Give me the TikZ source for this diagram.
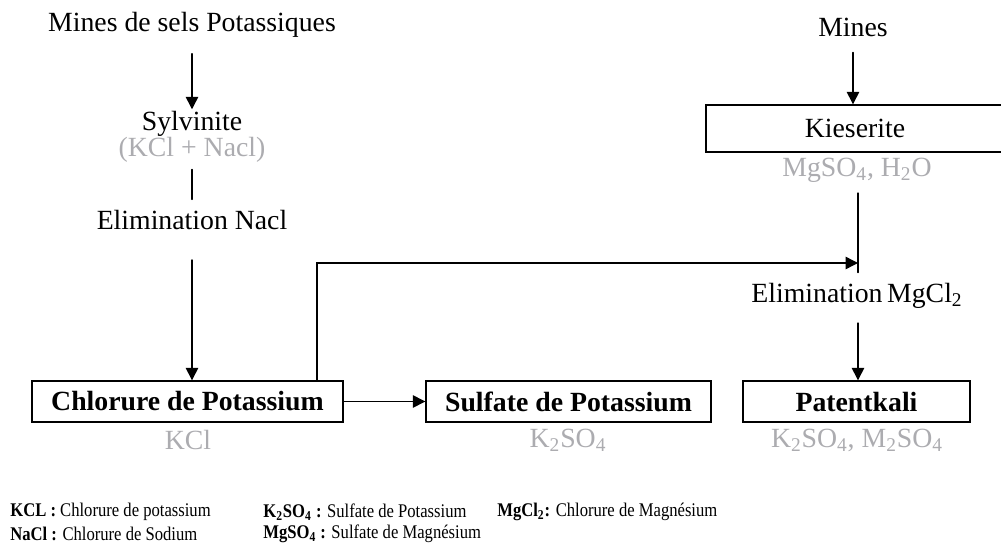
\documentclass[tikz,border=0pt]{standalone}
\usepackage{fontspec}
\setmainfont{Liberation Serif}
\newfontfamily\legendfont[FakeStretch=0.86]{Liberation Serif}
\usepackage{tikz}
\usetikzlibrary{arrows.meta}

\begin{document}
\begin{tikzpicture}
		[line cap=round,
		%Styles
		plain node/.style={font=\fontsize{15.8}{18}\selectfont,inner sep=1pt},
		gray node/.style={font=\fontsize{15.8}{18}\selectfont,text=saltgray,inner sep=1pt},
		box node/.style={draw,thick,font=\fontsize{15.8}{18}\selectfont\bfseries,minimum height=0.82cm,inner sep=0pt},
		legend node/.style={font=\legendfont\fontsize{11}{12}\selectfont,anchor=west,inner sep=0pt},
		flow/.style={thick,-{Triangle[width=7pt,length=7pt]}}
		]
		
		%Colors
		\definecolor{saltgray}{RGB}{172,172,176}	%formulas under the names
		
		\useasboundingbox (0,0) rectangle (20.02,-10.88);
		
		%The graphic
		\node[plain node] (mines1) at (3.84, -0.5) {Mines de sels Potassiques};
		\node[plain node] (sylv) at (3.84, -2.48) {Sylvinite};
		\node[gray node] (sylvtxt) at (3.84, -2.99) {(KCl + Nacl)};
		\node[plain node] (elimna) at (3.84, -4.4) {Elimination Nacl};
		\node[box node,minimum width=6.22cm] (kcl) at (3.75, -8.03) {Chlorure de Potassium};
		\node[gray node] (kcltxt) at (3.76, -8.8) {KCl};
		\node[box node,minimum width=5.7cm] (sulf) at (11.37, -8.03) {Sulfate de Potassium};
		\node[gray node] (sulftxt) at (11.36, -8.8) {K\textsubscript{2}SO\textsubscript{4}};
		\node[box node,minimum width=4.54cm] (patent) at (17.13, -8.03) {Patentkali};
		\node[gray node] (patenttxt) at (17.14, -8.8) {K\textsubscript{2}SO\textsubscript{4}, M\textsubscript{2}SO\textsubscript{4}};
		\node[plain node] (mines2) at (17.06, -0.54) {Mines};
		\node[box node,font=\fontsize{15.8}{18}\selectfont,minimum width=5.96cm,minimum height=0.94cm] (kies) at (17.1, -2.57) {Kieserite};
		\node[gray node] (kiestxt) at (17.14, -3.4) {MgSO\textsubscript{4}, H\textsubscript{2}O};
		\node[plain node] (elimmg) at (17.14, -5.92) {Elimination\,MgCl\textsubscript{2}};
		\coordinate (bend) at (6.34, -5.26);
		\coordinate (join) at (17.16, -5.26);
		
		\draw[flow,shorten <=8pt] (mines1) -- (sylv);
		\draw[thick,shorten <=3pt,shorten >=5pt] (sylvtxt) -- (elimna);
		\draw[flow,shorten <=16pt] (elimna) -- (elimna |- kcl.north);
		\draw[flow] (kcl) -- (sulf);
		\draw[flow] (kcl.north -| bend) -- (bend) -- (join);
		\draw[flow,shorten <=8pt] (mines2) -- (kies.north -| mines2);
		\draw[thick,shorten <=5pt,shorten >=5pt] (kiestxt.south -| join) -- (elimmg.north -| join);
		\draw[flow,shorten <=7pt] (elimmg.south -| join) -- (patent.north -| join);
		
		%Legend
		\node[legend node] (lkcl) at (0.2, -10.24) {\textbf{KCL :} Chlorure de potassium};
		\node[legend node] (lnacl) at (0.2, -10.67) {\textbf{NaCl :} Chlorure de Sodium};
		\node[legend node] (lk2so4) at (5.26, -10.24) {\textbf{K\textsubscript{2}SO\textsubscript{4} :} Sulfate de Potassium};
		\node[legend node] (lmgso4) at (5.26, -10.67) {\textbf{MgSO\textsubscript{4} :} Sulfate de Magnésium};
		\node[legend node] (lmgcl) at (9.94, -10.24) {\textbf{MgCl\textsubscript{2}:} Chlorure de Magnésium};
	\end{tikzpicture}
\end{document}
